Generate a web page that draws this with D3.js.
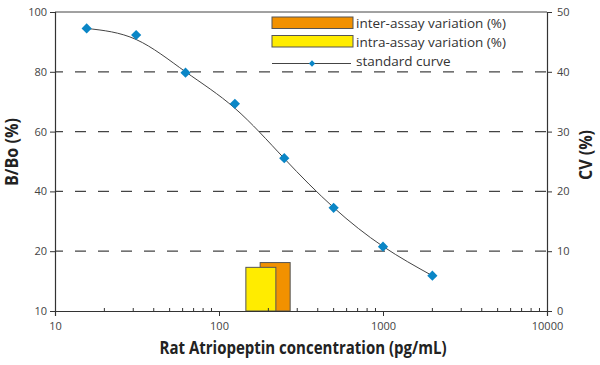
<!DOCTYPE html>
<html>
<head>
<meta charset="utf-8">
<script src="https://cdn.jsdelivr.net/npm/d3@7"></script>
<style>
  body { margin: 0; background: #fff; }
  svg { display: block; }
</style>
</head>
<body>
<svg></svg>
<script>
// standard curve points (pg/mL vs B/Bo %)
var stdConc = [15.6, 31.25, 62.5, 125, 250, 500, 1000, 2000];
var stdBBo = [94.5, 92.3, 79.7, 69.3, 51.1, 34.5, 21.5, 11.8];
// fitted curve at the same concentrations
var fitBBo = [94.5, 90.8, 80.0, 67.8, 51.0, 34.6, 21.6, 11.8];

// variation bars
var barNames = ["inter-assay variation (%)", "intra-assay variation (%)"];
var barConc = [220, 180];
var barCV = [8.1, 7.3];
var barColors = ["#f29100", "#ffec00"];

var xTicks = [10, 100, 1000, 10000];
var bBoTicks = [0, 20, 40, 60, 80, 100];
var bBoLabels = ["10", "20", "40", "60", "80", "100"];
var cvTicks = [0, 10, 20, 30, 40, 50];
var gridTicks = [20, 40, 60, 80];

var svgWidth = 600, svgHeight = 365;
var margin = { top: 12, right: 53, bottom: 54, left: 55 };
var width = svgWidth - margin.left - margin.right;
var height = svgHeight - margin.top - margin.bottom;
var tickFont = "'Open Sans', sans-serif";
var titleFont = "'Open Sans', sans-serif";

var svg = d3.select("svg")
    .attr("width", svgWidth)
    .attr("height", svgHeight);

var g = svg.append("g")
    .attr("transform", "translate(" + margin.left + "," + margin.top + ")");

var x = d3.scaleLog().domain([10, 10000]).range([0, width]);
var y = d3.scaleLinear().domain([0, 100]).range([height, 0]);
var yCV = d3.scaleLinear().domain([0, 50]).range([height, 0]);

// dashed grid
g.selectAll(".grid")
    .data(gridTicks)
    .enter()
    .append("line")
    .attr("x1", 0)
    .attr("x2", width)
    .attr("y1", function(d) { return y(d); })
    .attr("y2", function(d) { return y(d); })
    .attr("stroke", "#444")
    .attr("stroke-width", 1.2)
    .attr("stroke-dasharray", "11,12")
    .attr("stroke-dashoffset", 3);

// top border
g.append("line")
    .attr("x1", 0).attr("x2", width)
    .attr("y1", 0).attr("y2", 0)
    .attr("stroke", "#444");

// bars (inter drawn first, intra on top)
var barW = 30;
g.selectAll(".bar")
    .data(barCV)
    .enter()
    .append("rect")
    .attr("x", function(d, i) { return x(barConc[i]) - barW / 2; })
    .attr("y", function(d) { return yCV(d); })
    .attr("width", barW)
    .attr("height", function(d) { return height - yCV(d); })
    .attr("fill", function(d, i) { return barColors[i]; })
    .attr("stroke", "#555")
    .attr("stroke-width", 1);

// fitted line
var line = d3.line()
    .x(function(d, i) { return x(stdConc[i]); })
    .y(function(d) { return y(d); })
    .curve(d3.curveNatural);

g.append("path")
    .datum(fitBBo)
    .attr("fill", "none")
    .attr("stroke", "#444")
    .attr("stroke-width", 1)
    .attr("d", line);

var diamond = d3.symbol().type(d3.symbolSquare).size(52);
g.selectAll(".pt")
    .data(stdBBo)
    .enter()
    .append("path")
    .attr("d", diamond)
    .attr("transform", function(d, i) {
        return "translate(" + x(stdConc[i]) + "," + y(d) + ") rotate(45)";
    })
    .attr("fill", "#0a86c6");

// axes
var xAxis = g.append("g")
    .attr("transform", "translate(0," + height + ")")
    .call(d3.axisBottom(x).tickValues(xTicks).tickFormat(d3.format("d")).tickSize(5).tickPadding(6));

// minor log ticks pointing up
var minor = [];
[10, 100, 1000].forEach(function(dec) {
    for (var k = 2; k <= 9; k++) minor.push(dec * k);
});
g.selectAll(".minor")
    .data(minor)
    .enter()
    .append("line")
    .attr("x1", function(d) { return x(d); })
    .attr("x2", function(d) { return x(d); })
    .attr("y1", height)
    .attr("y2", height - 3)
    .attr("stroke", "#333");

var yAxis = g.append("g")
    .call(d3.axisLeft(y).tickValues(bBoTicks)
        .tickFormat(function(d, i) { return bBoLabels[i]; })
        .tickSize(5).tickPadding(3));

var yAxisR = g.append("g")
    .attr("transform", "translate(" + width + ",0)")
    .call(d3.axisRight(yCV).tickValues(cvTicks).tickSize(5).tickPadding(5));

[xAxis, yAxis, yAxisR].forEach(function(a) {
    a.select(".domain").attr("stroke", "#333").attr("stroke-width", 1.2);
    a.selectAll(".tick line").attr("stroke", "#333");
    a.selectAll(".tick text")
        .attr("fill", "#444")
        .style("font-family", tickFont)
        .style("font-size", "11px");
});

// axis titles
svg.append("text")
    .attr("x", 303)
    .attr("y", 354)
    .attr("text-anchor", "middle")
    .attr("textLength", 287)
    .attr("lengthAdjust", "spacingAndGlyphs")
    .style("font-family", titleFont)
    .style("font-weight", "bold")
    .style("font-size", "17px")
    .attr("fill", "#222")
    .text("Rat Atriopeptin concentration (pg/mL)");

svg.append("text")
    .attr("transform", "translate(18,152) rotate(-90)")
    .attr("text-anchor", "middle")
    .attr("textLength", 68)
    .attr("lengthAdjust", "spacingAndGlyphs")
    .style("font-family", titleFont)
    .style("font-weight", "bold")
    .style("font-size", "17px")
    .attr("fill", "#222")
    .text("B/Bo (%)");

svg.append("text")
    .attr("transform", "translate(592,155) rotate(-90)")
    .attr("text-anchor", "middle")
    .attr("textLength", 50)
    .attr("lengthAdjust", "spacingAndGlyphs")
    .style("font-family", titleFont)
    .style("font-weight", "bold")
    .style("font-size", "17px")
    .attr("fill", "#222")
    .text("CV (%)");

// legend
var legend = svg.append("g").attr("transform", "translate(272,17)");
barNames.forEach(function(name, i) {
    var row = legend.append("g").attr("transform", "translate(0," + (i * 18.5) + ")");
    row.append("rect")
        .attr("width", 81).attr("height", 11.5)
        .attr("fill", barColors[i])
        .attr("stroke", "#555");
    row.append("text")
        .attr("x", 84).attr("y", 11)
        .style("font-family", tickFont)
        .style("font-size", "13.5px")
        .attr("fill", "#333")
        .text(name);
});
var lg = legend.append("g").attr("transform", "translate(0,46.5)");
lg.append("line")
    .attr("x1", 0).attr("x2", 79)
    .attr("stroke", "#444");
lg.append("path")
    .attr("d", d3.symbol().type(d3.symbolSquare).size(20))
    .attr("transform", "translate(40,0) rotate(45)")
    .attr("fill", "#0a86c6");
lg.append("text")
    .attr("x", 84).attr("y", 2)
    .style("font-family", tickFont)
    .style("font-size", "13.5px")
    .attr("fill", "#333")
    .text("standard curve");
</script>
</body>
</html>
